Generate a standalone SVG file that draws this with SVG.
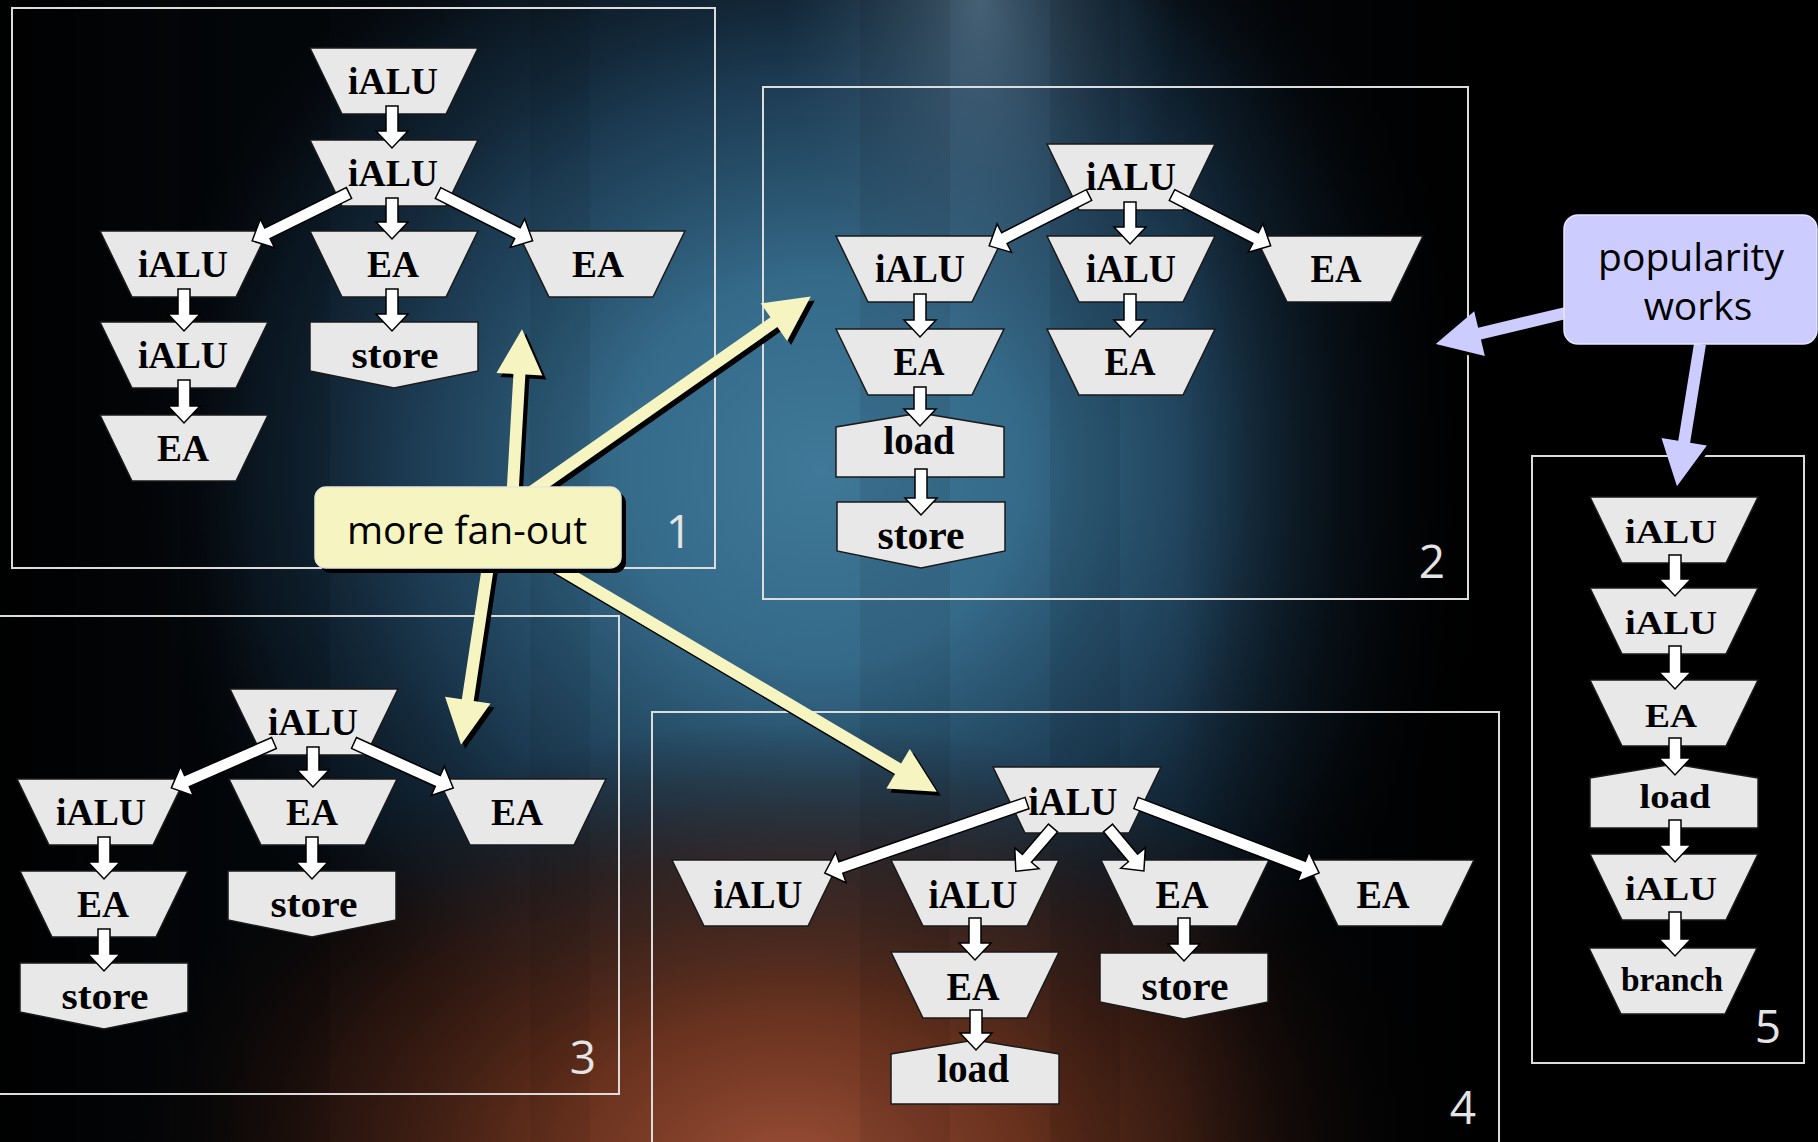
<svg xmlns="http://www.w3.org/2000/svg" xmlns:xlink="http://www.w3.org/1999/xlink" width="1818" height="1142" viewBox="0 0 1818 1142">
  <defs>
    <radialGradient id="glowBlue" gradientUnits="userSpaceOnUse" cx="820" cy="470" r="680" gradientTransform="translate(820 470) scale(1 0.95) translate(-820 -470)">
      <stop offset="0" stop-color="#3f7898"/>
      <stop offset="0.3" stop-color="#356a89"/>
      <stop offset="0.6" stop-color="#214560" stop-opacity="0.85"/>
      <stop offset="0.85" stop-color="#12283a" stop-opacity="0.5"/>
      <stop offset="1" stop-color="#0b1620" stop-opacity="0"/>
    </radialGradient>
    <radialGradient id="glowTop" gradientUnits="userSpaceOnUse" cx="980" cy="0" r="220" gradientTransform="translate(980 0) scale(0.9 1.8) translate(-980 0)">
      <stop offset="0" stop-color="#6a8aa2" stop-opacity="0.6"/>
      <stop offset="1" stop-color="#3a5a75" stop-opacity="0"/>
    </radialGradient>
    <radialGradient id="glowRed" gradientUnits="userSpaceOnUse" cx="790" cy="1170" r="640" gradientTransform="translate(790 1170) scale(1.05 0.7) translate(-790 -1170)">
      <stop offset="0" stop-color="#9c4f38"/>
      <stop offset="0.35" stop-color="#73361f" stop-opacity="0.9"/>
      <stop offset="0.7" stop-color="#3e1c10" stop-opacity="0.6"/>
      <stop offset="1" stop-color="#1a0c06" stop-opacity="0"/>
    </radialGradient>
    <linearGradient id="shadeLeft" x1="0" y1="0" x2="1" y2="0">
      <stop offset="0" stop-color="#000" stop-opacity="0.9"/>
      <stop offset="1" stop-color="#000" stop-opacity="0"/>
    </linearGradient>
    <linearGradient id="shadeRight" x1="0" y1="0" x2="1" y2="0">
      <stop offset="0" stop-color="#000" stop-opacity="0"/>
      <stop offset="1" stop-color="#000" stop-opacity="1"/>
    </linearGradient>

    <!-- node outlines, drawn relative to the top centre (peak for load) -->
    <path id="trap" d="M-84,0 H84 L52,66 H-52 Z"/>
    <path id="store" d="M-84,0 H84 V49 L0,66 L-84,49 Z"/>
    <path id="load" d="M0,0 L84,14 V64 H-84 V14 Z"/>

    <!-- callout arrows (pointing along +x, tip at the end) -->
    <path id="yUp" d="M0,-6 H146 V-23 L191,0 L146,23 V6 H0 Z" transform="translate(511 520) rotate(-86.7)"/>
    <path id="yB2" d="M0,-6 H310 V-23 L355,0 L310,23 V6 H0 Z" transform="translate(520 500) rotate(-35)"/>
    <path id="yDown" d="M0,-6 H162 V-23 L207,0 L162,23 V6 H0 Z" transform="translate(492 540) rotate(98.6)"/>
    <path id="yB4" d="M0,-6 H416 V-23 L461,0 L416,23 V6 H0 Z" transform="translate(540 557) rotate(30.6)"/>
    <path id="bLeft" d="M0,-6 H93 V-23 L138,0 L93,23 V6 H0 Z" transform="translate(1570 312) rotate(166.6)"/>
    <path id="bDown" d="M0,-6 H99 V-23 L144,0 L99,23 V6 H0 Z" transform="translate(1700 344) rotate(99.2)"/>

    <style>
      .node { fill: #e8e8e8; stroke: #1a1a1a; stroke-width: 1.5; }
      .lbl { font-family: "Liberation Serif", "Times New Roman", serif; font-weight: bold; fill: #000; text-anchor: middle; }
      .s36 { font-size: 38px; }
      .s40 { font-size: 41px; }
      .s33 { font-size: 33px; }
      .frame { fill: none; stroke: #dcdcdc; stroke-width: 2; }
      .num { font-family: "Open Sans", "Noto Sans", sans-serif; font-size: 46px; fill: #e4e4e4; text-anchor: middle; }
      .edge { fill: #fff; stroke: #000; stroke-width: 1.5; stroke-linejoin: miter; }
      .shadow { fill: #000; }
      .yellow { fill: #f6f4c0; }
      .blue { fill: #ccccff; }
      .note { font-family: "Open Sans", "Noto Sans", sans-serif; font-size: 39px; fill: #000; text-anchor: middle; }
      .band { fill: #000; }
    </style>
  </defs>

  <!-- background -->
  <rect x="0" y="0" width="1818" height="1142" fill="#04070b"/>
  <rect x="0" y="0" width="1818" height="1142" fill="url(#glowBlue)"/>
  <rect x="0" y="0" width="1818" height="1142" fill="url(#glowTop)"/>
  <rect x="0" y="0" width="1818" height="1142" fill="url(#glowRed)"/>
  <rect x="0" y="0" width="260" height="1142" fill="url(#shadeLeft)"/>
  <rect x="1180" y="0" width="300" height="1142" fill="url(#shadeRight)"/>
  <rect x="1480" y="0" width="338" height="1142" fill="#000"/>
  <rect x="1480" y="900" width="338" height="242" fill="url(#glowRed)" opacity="0.35"/>
  <!-- faint vertical banding -->
  <g id="bands">
    <rect class="band" x="180" y="0" width="150" height="1142" opacity="0.10"/>
    <rect class="band" x="530" y="0" width="60" height="1142" opacity="0.06"/>
    <rect class="band" x="860" y="0" width="90" height="1142" opacity="0.07"/>
    <rect class="band" x="1050" y="0" width="70" height="1142" opacity="0.08"/>
  </g>

  <!-- group frames -->
  <g id="frames">
    <rect class="frame" x="12" y="8" width="703" height="560"/>
    <rect class="frame" x="763" y="87" width="705" height="512"/>
    <rect class="frame" x="-2" y="616" width="621" height="478"/>
    <rect class="frame" x="652" y="712" width="847" height="450"/>
    <rect class="frame" x="1532" y="456" width="272" height="607"/>
  </g>

  <!-- group 1 -->
  <g id="g1-n1"><use href="#trap" class="node" x="394" y="48"/><text class="lbl s36" x="393" y="94" textLength="90" lengthAdjust="spacingAndGlyphs">iALU</text></g>
  <g id="g1-n2"><use href="#trap" class="node" x="394" y="140"/><text class="lbl s36" x="393" y="186" textLength="90" lengthAdjust="spacingAndGlyphs">iALU</text></g>
  <g id="g1-n3"><use href="#trap" class="node" x="184" y="231"/><text class="lbl s36" x="183" y="277" textLength="90" lengthAdjust="spacingAndGlyphs">iALU</text></g>
  <g id="g1-n4"><use href="#trap" class="node" x="394" y="231"/><text class="lbl s36" x="393" y="277" textLength="52" lengthAdjust="spacingAndGlyphs">EA</text></g>
  <g id="g1-n5"><use href="#trap" class="node" x="601" y="231"/><text class="lbl s36" x="598" y="277" textLength="52" lengthAdjust="spacingAndGlyphs">EA</text></g>
  <g id="g1-n6"><use href="#trap" class="node" x="184" y="322"/><text class="lbl s36" x="183" y="368" textLength="90" lengthAdjust="spacingAndGlyphs">iALU</text></g>
  <g id="g1-n7"><use href="#store" class="node" x="394" y="322"/><text class="lbl s36" x="395" y="368" textLength="87" lengthAdjust="spacingAndGlyphs">store</text></g>
  <g id="g1-n8"><use href="#trap" class="node" x="184" y="415"/><text class="lbl s36" x="183" y="461" textLength="52" lengthAdjust="spacingAndGlyphs">EA</text></g>

  <!-- group 2 -->
  <g id="g2-n1"><use href="#trap" class="node" x="1131" y="144"/><text class="lbl s40" x="1131" y="190" textLength="90" lengthAdjust="spacingAndGlyphs">iALU</text></g>
  <g id="g2-n2"><use href="#trap" class="node" x="920" y="236"/><text class="lbl s40" x="920" y="282" textLength="90" lengthAdjust="spacingAndGlyphs">iALU</text></g>
  <g id="g2-n3"><use href="#trap" class="node" x="1131" y="236"/><text class="lbl s40" x="1131" y="282" textLength="90" lengthAdjust="spacingAndGlyphs">iALU</text></g>
  <g id="g2-n4"><use href="#trap" class="node" x="1339" y="236"/><text class="lbl s40" x="1336" y="282" textLength="51" lengthAdjust="spacingAndGlyphs">EA</text></g>
  <g id="g2-n5"><use href="#trap" class="node" x="920" y="329"/><text class="lbl s40" x="919" y="375" textLength="51" lengthAdjust="spacingAndGlyphs">EA</text></g>
  <g id="g2-n6"><use href="#trap" class="node" x="1131" y="329"/><text class="lbl s40" x="1130" y="375" textLength="51" lengthAdjust="spacingAndGlyphs">EA</text></g>
  <g id="g2-n7"><use href="#load" class="node" x="920" y="413"/><text class="lbl s40" x="919" y="454" textLength="71" lengthAdjust="spacingAndGlyphs">load</text></g>
  <g id="g2-n8"><use href="#store" class="node" x="921" y="502"/><text class="lbl s40" x="921" y="549" textLength="87" lengthAdjust="spacingAndGlyphs">store</text></g>

  <!-- group 3 -->
  <g id="g3-n1"><use href="#trap" class="node" x="314" y="689"/><text class="lbl s36" x="313" y="735" textLength="90" lengthAdjust="spacingAndGlyphs">iALU</text></g>
  <g id="g3-n2"><use href="#trap" class="node" x="101" y="779"/><text class="lbl s36" x="101" y="825" textLength="90" lengthAdjust="spacingAndGlyphs">iALU</text></g>
  <g id="g3-n3"><use href="#trap" class="node" x="313" y="779"/><text class="lbl s36" x="312" y="825" textLength="52" lengthAdjust="spacingAndGlyphs">EA</text></g>
  <g id="g3-n4"><use href="#trap" class="node" x="522" y="779"/><text class="lbl s36" x="517" y="825" textLength="52" lengthAdjust="spacingAndGlyphs">EA</text></g>
  <g id="g3-n5"><use href="#trap" class="node" x="104" y="871"/><text class="lbl s36" x="103" y="917" textLength="52" lengthAdjust="spacingAndGlyphs">EA</text></g>
  <g id="g3-n6"><use href="#store" class="node" x="312" y="871"/><text class="lbl s36" x="314" y="917" textLength="87" lengthAdjust="spacingAndGlyphs">store</text></g>
  <g id="g3-n7"><use href="#store" class="node" x="104" y="963"/><text class="lbl s36" x="105" y="1009" textLength="87" lengthAdjust="spacingAndGlyphs">store</text></g>

  <!-- group 4 -->
  <g id="g4-n1"><use href="#trap" class="node" x="1077" y="767"/><text class="lbl s40" x="1073" y="815" textLength="89" lengthAdjust="spacingAndGlyphs">iALU</text></g>
  <g id="g4-n2"><use href="#trap" class="node" x="756" y="860"/><text class="lbl s40" x="758" y="908" textLength="89" lengthAdjust="spacingAndGlyphs">iALU</text></g>
  <g id="g4-n3"><use href="#trap" class="node" x="975" y="860"/><text class="lbl s40" x="973" y="908" textLength="89" lengthAdjust="spacingAndGlyphs">iALU</text></g>
  <g id="g4-n4"><use href="#trap" class="node" x="1185" y="860"/><text class="lbl s40" x="1182" y="908" textLength="53" lengthAdjust="spacingAndGlyphs">EA</text></g>
  <g id="g4-n5"><use href="#trap" class="node" x="1390" y="860"/><text class="lbl s40" x="1383" y="908" textLength="53" lengthAdjust="spacingAndGlyphs">EA</text></g>
  <g id="g4-n6"><use href="#trap" class="node" x="975" y="952"/><text class="lbl s40" x="973" y="1000" textLength="53" lengthAdjust="spacingAndGlyphs">EA</text></g>
  <g id="g4-n7"><use href="#store" class="node" x="1184" y="953"/><text class="lbl s40" x="1185" y="1000" textLength="87" lengthAdjust="spacingAndGlyphs">store</text></g>
  <g id="g4-n8"><use href="#load" class="node" x="975" y="1040"/><text class="lbl s40" x="973" y="1082" textLength="72" lengthAdjust="spacingAndGlyphs">load</text></g>

  <!-- group 5 -->
  <g id="g5-n1"><use href="#trap" class="node" x="1674" y="497"/><text class="lbl s33" x="1671" y="543" textLength="92" lengthAdjust="spacingAndGlyphs">iALU</text></g>
  <g id="g5-n2"><use href="#trap" class="node" x="1674" y="588"/><text class="lbl s33" x="1671" y="634" textLength="92" lengthAdjust="spacingAndGlyphs">iALU</text></g>
  <g id="g5-n3"><use href="#trap" class="node" x="1674" y="680"/><text class="lbl s33" x="1671" y="727" textLength="52" lengthAdjust="spacingAndGlyphs">EA</text></g>
  <g id="g5-n4"><use href="#load" class="node" x="1674" y="764"/><text class="lbl s33" x="1675" y="808" textLength="71" lengthAdjust="spacingAndGlyphs">load</text></g>
  <g id="g5-n5"><use href="#trap" class="node" x="1674" y="854"/><text class="lbl s33" x="1671" y="900" textLength="92" lengthAdjust="spacingAndGlyphs">iALU</text></g>
  <g id="g5-n6"><use href="#trap" class="node" x="1673" y="948"/><text class="lbl s33" x="1672" y="991" textLength="102" lengthAdjust="spacingAndGlyphs">branch</text></g>

  <!-- dependence arrows -->
  <g id="connectors">
    <!-- group 1 -->
    <path class="edge" d="M386,106 V131 H376 L392,148 L408,131 H398 V106 Z"/>
    <path class="edge" d="M386,198 V222 H376 L392,239 L408,222 H398 V198 Z"/>
    <path class="edge" transform="translate(349 193) rotate(153.7)" d="M0,-6 H91 V-16 L108,0 L91,16 V6 H0 Z"/>
    <path class="edge" transform="translate(438 193) rotate(26.8)" d="M0,-6 H89 V-16 L106,0 L89,16 V6 H0 Z"/>
    <path class="edge" d="M178,289 V314 H168 L184,331 L200,314 H190 V289 Z"/>
    <path class="edge" d="M386,289 V314 H376 L392,331 L408,314 H398 V289 Z"/>
    <path class="edge" d="M178,380 V406 H168 L184,423 L200,406 H190 V380 Z"/>
    <!-- group 2 -->
    <path class="edge" d="M1124,202 V227 H1114 L1130,244 L1146,227 H1136 V202 Z"/>
    <path class="edge" transform="translate(1089 195) rotate(153)" d="M0,-6 H95 V-16 L112,0 L95,16 V6 H0 Z"/>
    <path class="edge" transform="translate(1172 195) rotate(27.25)" d="M0,-6 H94 V-16 L111,0 L94,16 V6 H0 Z"/>
    <path class="edge" d="M914,294 V320 H904 L920,337 L936,320 H926 V294 Z"/>
    <path class="edge" d="M1124,294 V320 H1114 L1130,337 L1146,320 H1136 V294 Z"/>
    <path class="edge" d="M914,387 V409 H904 L920,426 L936,409 H926 V387 Z"/>
    <path class="edge" d="M915,469 V498 H905 L921,515 L937,498 H927 V469 Z"/>
    <!-- group 3 -->
    <path class="edge" d="M307,747 V770 H297 L313,787 L329,770 H319 V747 Z"/>
    <path class="edge" transform="translate(274 743) rotate(156.4)" d="M0,-6 H95 V-16 L112,0 L95,16 V6 H0 Z"/>
    <path class="edge" transform="translate(354 743) rotate(24.4)" d="M0,-6 H92 V-16 L109,0 L92,16 V6 H0 Z"/>
    <path class="edge" d="M98,837 V862 H88 L104,879 L120,862 H110 V837 Z"/>
    <path class="edge" d="M306,837 V862 H296 L312,879 L328,862 H318 V837 Z"/>
    <path class="edge" d="M98,929 V954 H88 L104,971 L120,954 H110 V929 Z"/>
    <!-- group 4 -->
    <path class="edge" transform="translate(1027 803) rotate(160.9)" d="M0,-6 H197 V-16 L214,0 L197,16 V6 H0 Z"/>
    <path class="edge" transform="translate(1053 828) rotate(130.7)" d="M0,-6 H40 V-16 L57,0 L40,16 V6 H0 Z"/>
    <path class="edge" transform="translate(1108 828) rotate(50.1)" d="M0,-6 H39 V-16 L56,0 L39,16 V6 H0 Z"/>
    <path class="edge" transform="translate(1136 803) rotate(20.9)" d="M0,-6 H179 V-16 L196,0 L179,16 V6 H0 Z"/>
    <path class="edge" d="M969,918 V943 H959 L975,960 L991,943 H981 V918 Z"/>
    <path class="edge" d="M1178,918 V944 H1168 L1184,961 L1200,944 H1190 V918 Z"/>
    <path class="edge" d="M970,1010 V1033 H960 L976,1050 L992,1033 H982 V1010 Z"/>
    <!-- group 5 -->
    <path class="edge" d="M1669,555 V579 H1659 L1675,596 L1691,579 H1681 V555 Z"/>
    <path class="edge" d="M1669,646 V672 H1659 L1675,689 L1691,672 H1681 V646 Z"/>
    <path class="edge" d="M1669,738 V758 H1659 L1675,775 L1691,758 H1681 V738 Z"/>
    <path class="edge" d="M1669,820 V845 H1659 L1675,862 L1691,845 H1681 V820 Z"/>
    <path class="edge" d="M1669,912 V939 H1659 L1675,956 L1691,939 H1681 V912 Z"/>
  </g>

  <!-- group numbers -->
  <g id="numbers">
    <text class="num" x="679" y="548">1</text>
    <text class="num" x="1432" y="578">2</text>
    <text class="num" x="583" y="1074">3</text>
    <text class="num" x="1463" y="1124">4</text>
    <text class="num" x="1768" y="1043">5</text>
  </g>

  <!-- "more fan-out" callout -->
  <g id="callout-fanout">
    <use href="#yUp" class="shadow" x="4" y="4"/>
    <use href="#yB2" class="shadow" x="4" y="4"/>
    <use href="#yDown" class="shadow" x="4" y="4"/>
    <use href="#yB4" class="shadow" x="4" y="4"/>
    <use href="#yUp" class="yellow"/>
    <use href="#yB2" class="yellow"/>
    <use href="#yDown" class="yellow"/>
    <use href="#yB4" class="yellow"/>
    <rect x="320" y="492" width="306" height="81" rx="11" fill="#000"/>
    <rect x="315" y="487" width="306" height="81" rx="11" fill="#f6f4c0" stroke="#e8e6d8" stroke-width="1.5"/>
    <text class="note" x="467" y="544">more fan-out</text>
  </g>

  <!-- "popularity works" callout -->
  <g id="callout-popularity">
    <use href="#bLeft" class="shadow" x="3" y="4"/>
    <use href="#bDown" class="shadow" x="3" y="4"/>
    <use href="#bLeft" class="blue"/>
    <use href="#bDown" class="blue"/>
    <rect x="1564" y="215" width="253" height="129" rx="14" fill="#ccccff" stroke="#e6e6ff" stroke-width="1.5"/>
    <text class="note" x="1691" y="271">popularity</text>
    <text class="note" x="1698" y="320">works</text>
  </g>
</svg>
